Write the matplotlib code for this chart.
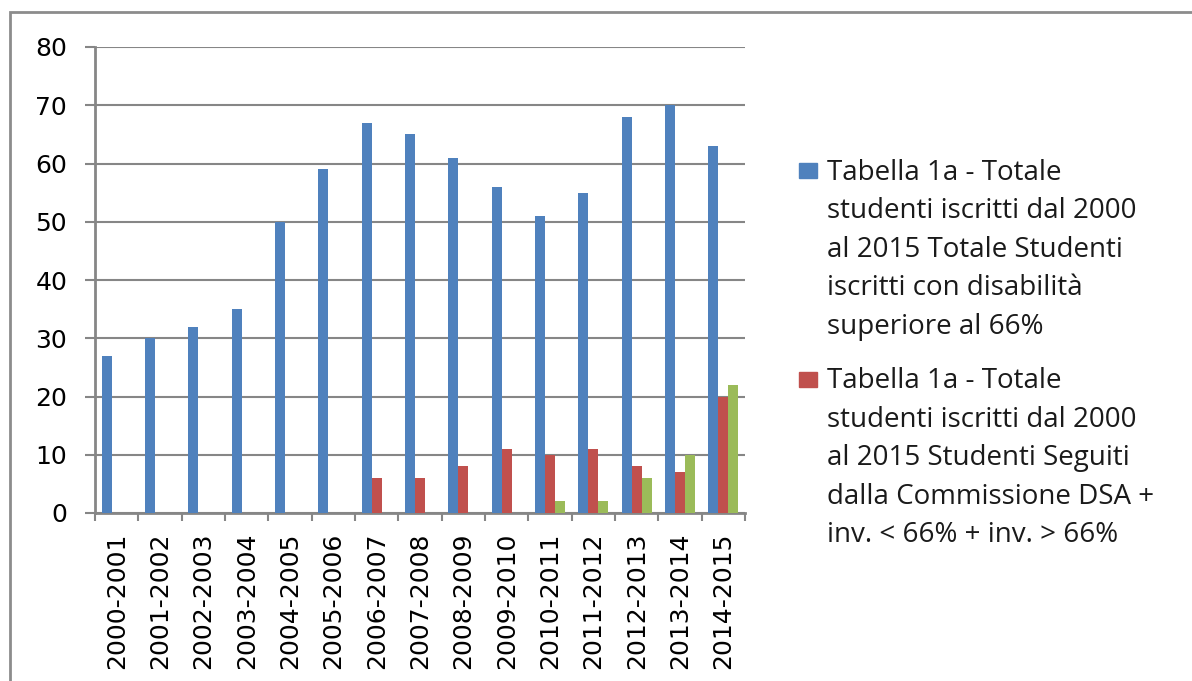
import numpy as np
import matplotlib
matplotlib.use("Agg")
import matplotlib.pyplot as plt
from matplotlib.patches import Rectangle

years = ["2000-2001", "2001-2002", "2002-2003", "2003-2004", "2004-2005",
         "2005-2006", "2006-2007", "2007-2008", "2008-2009", "2009-2010",
         "2010-2011", "2011-2012", "2012-2013", "2013-2014", "2014-2015"]
totale = [27, 30, 32, 35, 50, 59, 67, 65, 61, 56, 51, 55, 68, 70, 63]
seguiti = [0, 0, 0, 0, 0, 0, 6, 6, 8, 11, 10, 11, 8, 7, 20]
terza = [0, 0, 0, 0, 0, 0, 0, 0, 0, 0, 2, 2, 6, 10, 22]

label_tot = ("Tabella 1a - Totale\nstudenti iscritti dal 2000\nal 2015 Totale Studenti\n"
             "iscritti con disabilità\nsuperiore al 66%")
label_seg = ("Tabella 1a - Totale\nstudenti iscritti dal 2000\nal 2015 Studenti Seguiti\n"
             "dalla Commissione DSA +\ninv. < 66% + inv. > 66%")

blue, red, green = "#4F81BD", "#C0504D", "#9BBB59"
grey = "#868686"
W, H = 1192, 681

fig = plt.figure(figsize=(W / 100, H / 100), dpi=100)
ax = fig.add_axes([95 / W, 1 - 513 / H, 650 / W, 466 / H])

# outer frame of the chart area
fig.patches.append(Rectangle((10 / W, -0.1), 1.2, 1 - 12 / H + 0.1,
                             transform=fig.transFigure, fill=False,
                             edgecolor="#8c8c8c", linewidth=2))

x = np.arange(len(years))
w = 0.23
ax.bar(x - w, totale, w, color=blue, zorder=3)
ax.bar(x, seguiti, w, color=red, zorder=3)
ax.bar(x + w, terza, w, color=green, zorder=3)

ax.set_xlim(-0.5, len(years) - 0.5)
ax.set_ylim(0, 80)
ax.set_yticks(range(0, 81, 10))
ax.yaxis.grid(True, color=grey, linewidth=1.5, zorder=0)
ax.set_axisbelow(True)

for s in ["top", "right"]:
    ax.spines[s].set_visible(False)
for s in ["left", "bottom"]:
    ax.spines[s].set_color(grey)
    ax.spines[s].set_linewidth(2)

ax.tick_params(axis="y", length=7, width=1.5, color=grey, pad=13,
               labelsize=18)
ax.set_xticks(x)
ax.set_xticklabels(years, rotation=90, fontsize=18)
ax.tick_params(axis="x", which="major", length=0, pad=14)
ax.set_xticks(np.arange(-0.5, len(years)), minor=True)
ax.tick_params(axis="x", which="minor", length=6, width=1.5, color=grey)

# legend drawn by hand: square aligned with the first text line
step = 38.5
y0 = 180
for color, label in [(blue, label_tot), (red, label_seg)]:
    fig.patches.append(Rectangle((799 / W, 1 - (y0 - 2) / H), 18 / W, 15 / H,
                                 transform=fig.transFigure, color=color))
    for line in label.split("\n"):
        fig.text(827 / W, 1 - y0 / H, line, fontsize=20, family="Open Sans",
                 va="baseline", ha="left", color="#1a1a1a")
        y0 += step
    y0 += 16

fig.savefig("out.png", dpi=100)
